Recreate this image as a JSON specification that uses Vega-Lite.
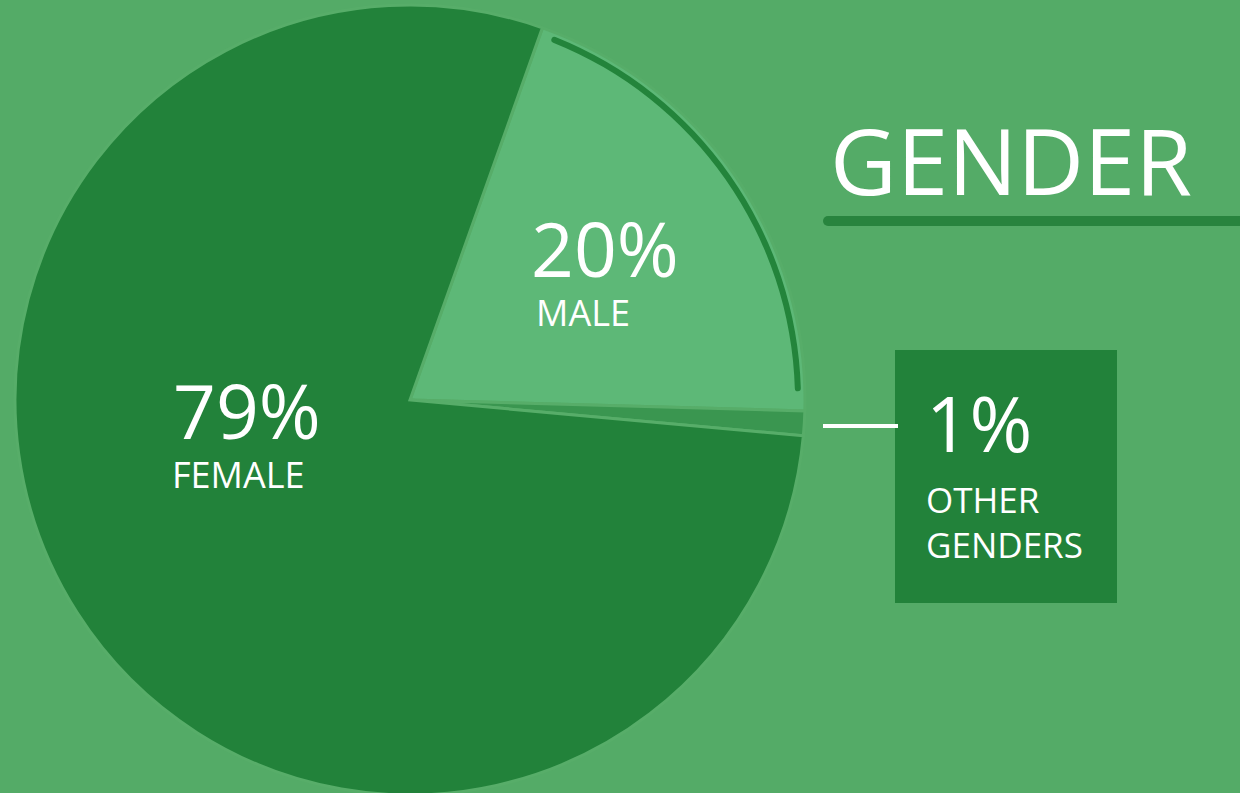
{
  "$schema": "https://vega.github.io/schema/vega-lite/v6.json",
  "width": 1240,
  "height": 793,
  "autosize": "none",
  "padding": 0,
  "background": "#54AB67",
  "config": {"view": {"stroke": null}, "font": "Open Sans"},
  "layer": [
    {
      "data": {"values": [
        {"gender": "Male", "pct": 20, "rank": 1},
        {"gender": "Other genders", "pct": 1, "rank": 2},
        {"gender": "Female", "pct": 79, "rank": 3}
      ]},
      "layer": [
        {
          "mark": {"type": "arc", "outerRadius": 395, "stroke": "#57AD69", "strokeWidth": 3},
          "encoding": {
            "x": {"datum": 410, "type": "quantitative", "scale": {"domain": [0, 1240], "nice": false, "zero": false}, "axis": null},
            "y": {"datum": 400, "type": "quantitative", "scale": {"domain": [0, 793], "nice": false, "zero": false, "reverse": true}, "axis": null},
            "theta": {"field": "pct", "type": "quantitative", "stack": true, "scale": {"domain": [0, 100], "range": [0.342, 6.625]}},
            "order": {"field": "rank", "type": "quantitative"},
            "color": {"field": "gender", "type": "nominal", "legend": null,
              "scale": {"domain": ["Male", "Other genders", "Female"], "range": ["#5DB877", "#3A9650", "#22823A"]}}
          }
        },
        {
          "transform": [{"filter": "datum.gender === 'Male'"}],
          "mark": {"type": "arc", "outerRadius": 391, "innerRadius": 385, "color": "#23843B", "cornerRadius": 3},
          "encoding": {
            "x": {"datum": 410, "type": "quantitative"},
            "y": {"datum": 400, "type": "quantitative"},
            "theta": {"datum": 0.5, "type": "quantitative"},
            "theta2": {"datum": 19.2}
          }
        }
      ]
    },
    {
      "data": {"values": [{}]},
      "layer": [
        {
          "mark": {"type": "rect", "color": "#22823A"},
          "encoding": {
            "x": {"datum": 895, "type": "quantitative"},
            "x2": {"datum": 1117},
            "y": {"datum": 350, "type": "quantitative"},
            "y2": {"datum": 603}
          }
        },
        {
          "mark": {"type": "rule", "color": "white", "strokeWidth": 4},
          "encoding": {
            "x": {"datum": 823, "type": "quantitative"},
            "x2": {"datum": 898},
            "y": {"datum": 426, "type": "quantitative"}
          }
        },
        {
          "mark": {"type": "rule", "color": "#24803A", "strokeWidth": 10, "strokeCap": "round", "opacity": 0.9},
          "encoding": {
            "x": {"datum": 828, "type": "quantitative"},
            "x2": {"datum": 1245},
            "y": {"datum": 221, "type": "quantitative"}
          }
        },
        {
          "mark": {"type": "text", "align": "left", "baseline": "alphabetic", "color": "white", "fontSize": 92, "fontWeight": 500, "letterSpacing": 20},
          "encoding": {
            "x": {"datum": 830, "type": "quantitative"},
            "y": {"datum": 195, "type": "quantitative"},
            "text": {"value": "GENDER"}
          }
        },
        {
          "mark": {"type": "text", "align": "left", "baseline": "alphabetic", "color": "white", "fontSize": 75, "fontWeight": 500},
          "encoding": {
            "x": {"datum": 173, "type": "quantitative"},
            "y": {"datum": 439, "type": "quantitative"},
            "text": {"value": "79%"}
          }
        },
        {
          "mark": {"type": "text", "align": "left", "baseline": "alphabetic", "color": "white", "fontSize": 36, "fontWeight": 500},
          "encoding": {
            "x": {"datum": 172, "type": "quantitative"},
            "y": {"datum": 488, "type": "quantitative"},
            "text": {"value": "FEMALE"}
          }
        },
        {
          "mark": {"type": "text", "align": "left", "baseline": "alphabetic", "color": "white", "fontSize": 75, "fontWeight": 500},
          "encoding": {
            "x": {"datum": 531, "type": "quantitative"},
            "y": {"datum": 277, "type": "quantitative"},
            "text": {"value": "20%"}
          }
        },
        {
          "mark": {"type": "text", "align": "left", "baseline": "alphabetic", "color": "white", "fontSize": 36, "fontWeight": 500},
          "encoding": {
            "x": {"datum": 536, "type": "quantitative"},
            "y": {"datum": 326, "type": "quantitative"},
            "text": {"value": "MALE"}
          }
        },
        {
          "mark": {"type": "text", "align": "left", "baseline": "alphabetic", "color": "white", "fontSize": 76, "fontWeight": 500},
          "encoding": {
            "x": {"datum": 926, "type": "quantitative"},
            "y": {"datum": 452, "type": "quantitative"},
            "text": {"value": "1%"}
          }
        },
        {
          "mark": {"type": "text", "align": "left", "baseline": "alphabetic", "color": "white", "fontSize": 35, "fontWeight": 500, "lineHeight": 45},
          "encoding": {
            "x": {"datum": 926, "type": "quantitative"},
            "y": {"datum": 513, "type": "quantitative"},
            "text": {"value": ["OTHER", "GENDERS"]}
          }
        }
      ]
    }
  ]
}
